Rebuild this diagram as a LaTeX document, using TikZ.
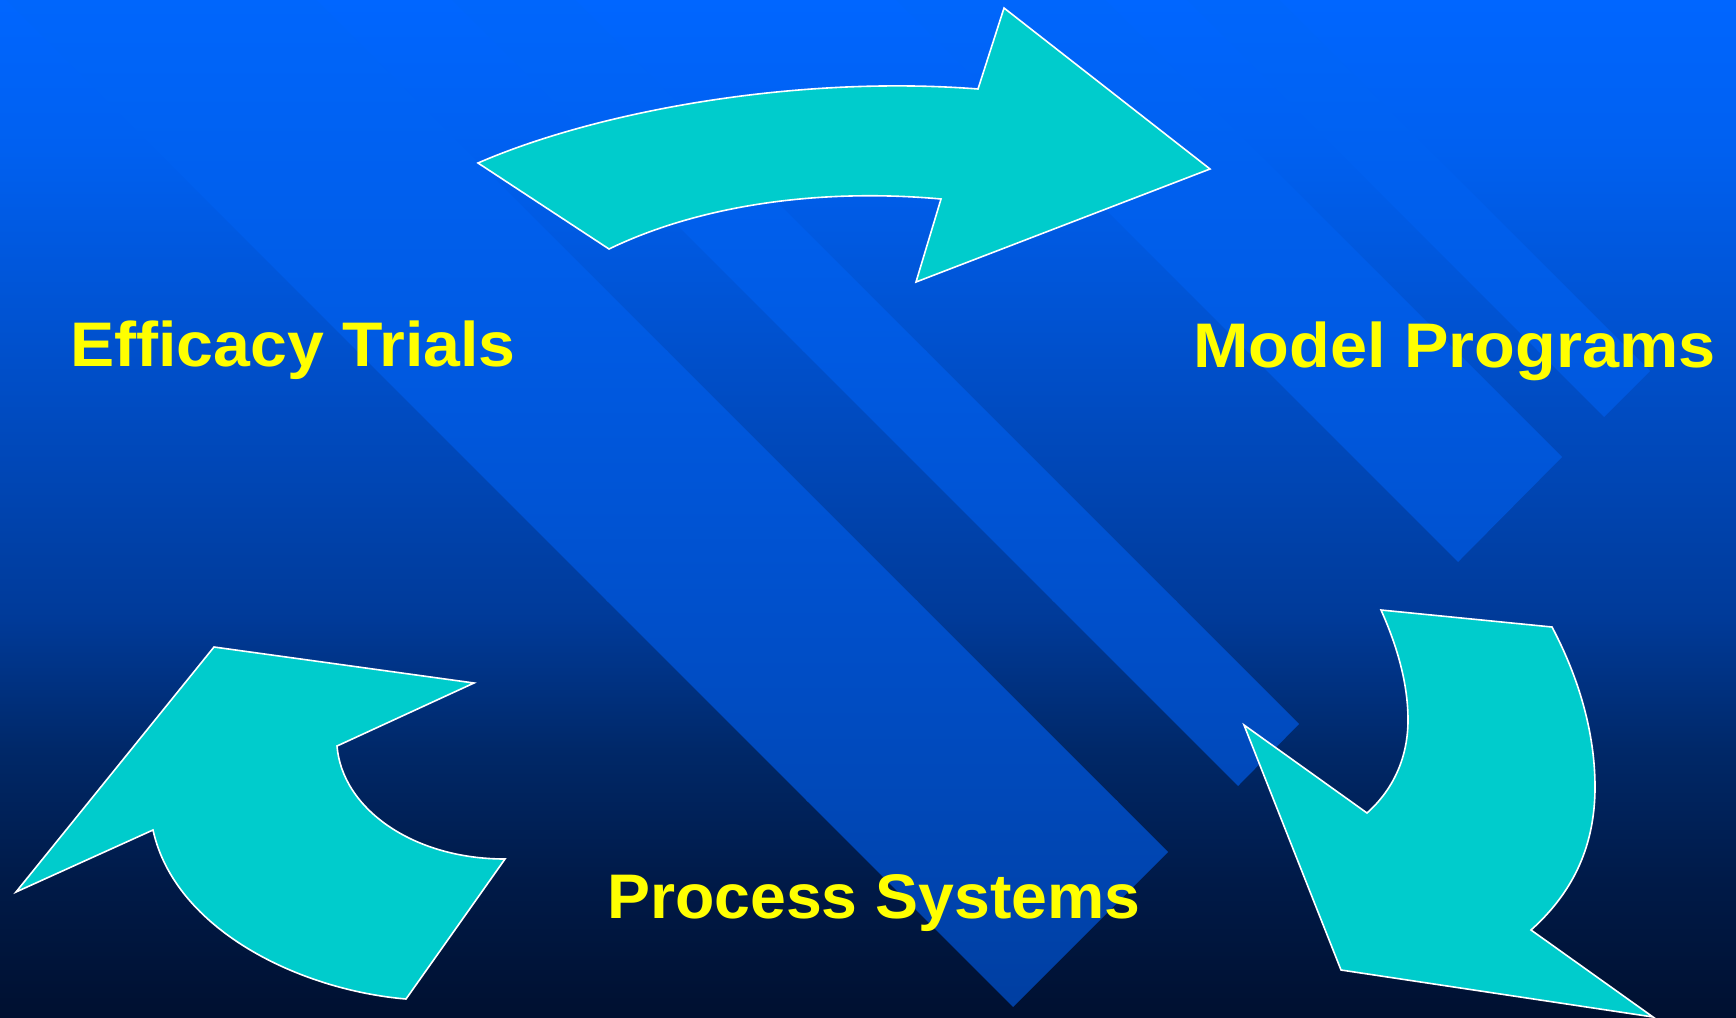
\documentclass[tikz,border=0pt]{standalone}
\usepackage{fontspec}
\usepackage{graphicx}
\setmainfont{Liberation Sans}
\definecolor{arrowcyan}{HTML}{00CCCC}
\definecolor{lblyellow}{HTML}{FFFF00}
\definecolor{bgA}{HTML}{0066FF}
\definecolor{bgB}{HTML}{0060F0}
\definecolor{bgC}{HTML}{0050CC}
\definecolor{bgD}{HTML}{0044B0}
\definecolor{bgE}{HTML}{003A98}
\definecolor{bgF}{HTML}{002868}
\definecolor{bgG}{HTML}{001A48}
\definecolor{bgH}{HTML}{001030}
\definecolor{bdA}{HTML}{0066FC}
\definecolor{bdB}{HTML}{005AE2}
\definecolor{bdC}{HTML}{0050CC}
\definecolor{bdD}{HTML}{0048B8}
\definecolor{bdE}{HTML}{003EA0}
\newcommand\bgseg[4]{\shade[top color=#3,bottom color=#4] (0,#1) rectangle (1736,#2);}
\begin{document}
\begin{tikzpicture}[x=1pt,y=-1pt,
  arrowshape/.style={fill=arrowcyan, draw=white, line width=1.6pt, line join=miter},
  lbl/.style={text=lblyellow, font=\fontsize{63}{76}\selectfont\bfseries, inner sep=0pt, anchor=base west}]
\useasboundingbox (0,0) rectangle (1736,1017);
% background gradient
\bgseg{-1}{151}{bgA}{bgB}
\bgseg{150}{351}{bgB}{bgC}
\bgseg{350}{501}{bgC}{bgD}
\bgseg{500}{621}{bgD}{bgE}
\bgseg{620}{751}{bgE}{bgF}
\bgseg{750}{881}{bgF}{bgG}
\bgseg{880}{1018}{bgG}{bgH}
% diagonal bands
\begin{scope}
\clip (1013,1007) -- (1168,852) -- (-32,-348) -- (-187,-193) -- cycle
      (1238,786) -- (1299,724) -- (99,-476) -- (38,-414) -- cycle
      (1458,562) -- (1562,457) -- (362,-743) -- (258,-638) -- cycle
      (1604,417) -- (1650,371) -- (450,-829) -- (404,-783) -- cycle;
\bgseg{-1}{351}{bdA}{bdB}
\bgseg{350}{601}{bdB}{bdC}
\bgseg{600}{801}{bdC}{bdD}
\bgseg{800}{1018}{bdD}{bdE}
\end{scope}
% arrows
\path[arrowshape] (478,163) .. controls (600,110) and (800,75) .. (978,89)
  -- (1004,8) -- (1210,169) -- (916,282) -- (941,199)
  .. controls (820,188) and (700,205) .. (609,249) -- cycle;
\path[arrowshape] (1381,610) -- (1552,627)
  .. controls (1580,680) and (1595,735) .. (1595,787)
  .. controls (1595,850) and (1570,895) .. (1531,930)
  -- (1653,1017) -- (1341,970) -- (1244,725) -- (1367,813)
  .. controls (1395,788) and (1408,755) .. (1408,720)
  .. controls (1408,685) and (1398,648) .. (1381,610) -- cycle;
\path[arrowshape] (214,647) -- (474,683) -- (337,746)
  .. controls (342,808) and (412,859) .. (505,859)
  -- (406,999) .. controls (300,990) and (175,930) .. (153,830)
  -- (16,892) -- cycle;
% labels
\node[lbl] (efficacy) at (70,366) {\scalebox{1.051}[1]{Efficacy Trials}};
\node[lbl] (model) at (1193,367) {\scalebox{1.058}[1]{Model Programs}};
\node[lbl] (process) at (607,918) {\scalebox{1.022}[1]{Process Systems}};
\end{tikzpicture}
\end{document}
